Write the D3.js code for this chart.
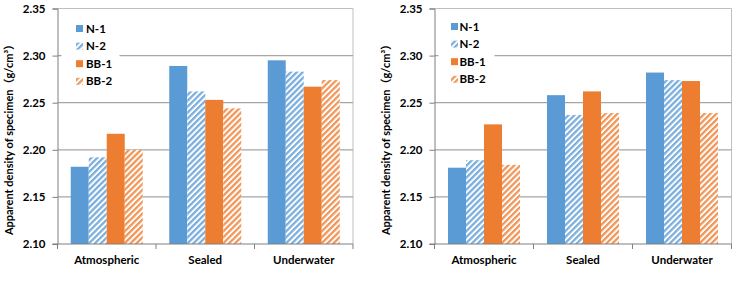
<!DOCTYPE html>
<html>
<head>
<meta charset="utf-8">
<script src="https://cdn.jsdelivr.net/npm/d3@7"></script>
<style>
  body { margin: 0; background: #fff; }
  svg text { font-family: Lato, "Noto Sans CJK SC", sans-serif; font-weight: bold; fill: #000; }
</style>
</head>
<body>
<svg id="chart" width="734" height="289"></svg>
<script>
// data
const categories = ["Atmospheric", "Sealed", "Underwater"];
const series = ["N-1", "N-2", "BB-1", "BB-2"];
const yTicks = [2.10, 2.15, 2.20, 2.25, 2.30, 2.35];

// rows: category, columns: series
const leftValues = [
    [2.182, 2.192, 2.217, 2.200],
    [2.289, 2.262, 2.253, 2.244],
    [2.295, 2.283, 2.267, 2.274]
];
const rightValues = [
    [2.181, 2.189, 2.227, 2.184],
    [2.258, 2.237, 2.262, 2.239],
    [2.282, 2.274, 2.273, 2.239]
];

const colors = { "N-1": "#5b9bd5", "N-2": "#5b9bd5", "BB-1": "#ed7d31", "BB-2": "#ed7d31" };
const hatched = { "N-1": false, "N-2": true, "BB-1": false, "BB-2": true };

const svg = d3.select("#chart");

// hatch patterns
const defs = svg.append("defs");
[["hatch-blue", "#5b9bd5"], ["hatch-orange", "#ed7d31"]].forEach(([id, c]) => {
    const p = defs.append("pattern")
        .attr("id", id)
        .attr("patternUnits", "userSpaceOnUse")
        .attr("width", 4.2)
        .attr("height", 4.2)
        .attr("patternTransform", "rotate(45)");
    p.append("rect").attr("width", 4.2).attr("height", 4.2).attr("fill", "#fff");
    p.append("rect").attr("width", 2.3).attr("height", 4.2).attr("fill", c).attr("opacity", 0.8);
});

function fillFor(s) {
    if (!hatched[s]) return colors[s];
    return s.startsWith("N") ? "url(#hatch-blue)" : "url(#hatch-orange)";
}

function drawPanel(values, opt) {
    const g = svg.append("g");

    const x = d3.scaleBand().domain(categories).range([opt.left, opt.right]);
    const y = d3.scaleLinear().domain([2.10, 2.35]).range([opt.bottom, opt.top]);
    const bw = x.bandwidth();
    const pad = (bw - 72) / 2;
    const xs = d3.scaleBand().domain(series).range([pad, bw - pad]);

    // plot border (top, right)
    g.append("path")
        .attr("d", `M${opt.left},${opt.top}H${opt.right}V${opt.bottom}`)
        .attr("fill", "none")
        .attr("stroke", "#bfbfbf")
        .attr("stroke-width", 1);

    // gridlines
    g.append("g")
        .selectAll("line")
        .data(yTicks.slice(1, -1))
        .join("line")
        .attr("x1", opt.left)
        .attr("x2", opt.right)
        .attr("y1", d => y(d))
        .attr("y2", d => y(d))
        .attr("stroke", "#a6a6a6")
        .attr("stroke-width", 1.2);

    // bars
    categories.forEach((c, i) => {
        g.append("g")
            .attr("transform", `translate(${x(c)},0)`)
            .selectAll("rect")
            .data(series.map((s, j) => ({ s, v: values[i][j] })))
            .join("rect")
            .attr("x", d => xs(d.s))
            .attr("width", xs.bandwidth())
            .attr("y", d => y(d.v))
            .attr("height", d => y(2.10) - y(d.v))
            .attr("fill", d => fillFor(d.s));
    });

    // y axis
    const yAxis = g.append("g")
        .attr("transform", `translate(${opt.left},0)`)
        .call(d3.axisLeft(y).tickValues(yTicks).tickFormat(d3.format(".2f")).tickSize(5).tickPadding(7));
    yAxis.select(".domain").attr("stroke", "#7f7f7f");
    yAxis.selectAll(".tick line").attr("stroke", "#7f7f7f");
    yAxis.selectAll("text").style("font-size", "11.5px");

    // x axis with ticks at category boundaries
    const xAxis = g.append("g").attr("transform", `translate(0,${opt.bottom})`);
    xAxis.append("line")
        .attr("x1", opt.left - 5).attr("x2", opt.right)
        .attr("stroke", "#7f7f7f");
    xAxis.selectAll(".bt")
        .data(categories.concat(["end"]))
        .join("line")
        .attr("class", "bt")
        .attr("x1", d => d === "end" ? opt.right : x(d))
        .attr("x2", d => d === "end" ? opt.right : x(d))
        .attr("y1", 0).attr("y2", 5)
        .attr("stroke", "#7f7f7f");
    xAxis.selectAll("text")
        .data(categories)
        .join("text")
        .attr("x", d => x(d) + bw / 2)
        .attr("y", 20)
        .attr("text-anchor", "middle")
        .style("font-size", "11.5px")
        .text(d => d);

    // y label
    g.append("text")
        .attr("transform", `translate(${opt.labelX},${opt.labelY}) rotate(-90)`)
        .attr("text-anchor", "middle")
        .style("font-size", "11px")
        .text("Apparent density of specimen（g/cm³）");

    // legend
    const lg = g.append("g").attr("transform", `translate(${opt.left + 4},15)`);
    lg.append("rect")
        .attr("width", opt.legendW)
        .attr("height", 75)
        .attr("fill", "#fff");
    series.forEach((s, i) => {
        const row = lg.append("g").attr("transform", `translate(0,${opt.legendY0 + i * 17.6})`);
        row.append("rect")
            .attr("x", opt.swX)
            .attr("y", -3.5)
            .attr("width", 7)
            .attr("height", 7)
            .attr("fill", fillFor(s));
        row.append("text")
            .attr("x", opt.txX)
            .attr("y", 4)
            .style("font-size", "11.5px")
            .text(s);
    });
}

drawPanel(leftValues, {
    left: 57.5, right: 353, top: 8.5, bottom: 244,
    labelX: 13, labelY: 137,
    legendW: 58, legendY0: 13.5, swX: 14.5, txX: 24.5
});
drawPanel(rightValues, {
    left: 434.5, right: 731.5, top: 8.5, bottom: 244,
    labelX: 390, labelY: 137,
    legendW: 56, legendY0: 11.5, swX: 12.5, txX: 21
});
</script>
</body>
</html>
